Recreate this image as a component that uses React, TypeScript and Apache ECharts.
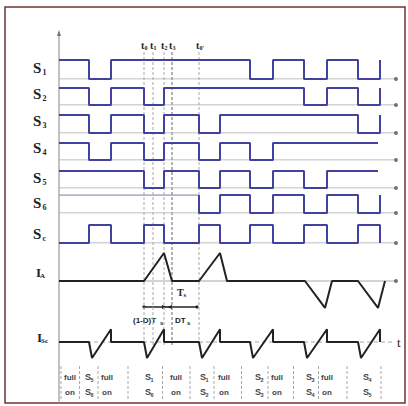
import React, { useEffect, useRef } from "react";
import * as echarts from "echarts";

// ---- data (time units; full-on / active intervals alternate) ----
const boundaries = [0, 30, 52, 85, 105, 140, 161, 191, 214, 245, 268, 299, 321];
const signalNames = ["S1", "S2", "S3", "S4", "S5", "S6", "Sc"];
const s1Levels = [1, 0, 1, 1, 1, 1, 1, 0, 1, 0, 1, 0];
const s2Levels = [1, 0, 1, 0, 1, 1, 1, 1, 1, 0, 1, 0];
const s3Levels = [1, 0, 1, 0, 1, 0, 1, 1, 1, 1, 1, 0];
const s4Levels = [1, 0, 1, 0, 1, 0, 1, 0, 1, 1, 1, 1];
const s5Levels = [1, 1, 1, 0, 1, 0, 1, 0, 1, 0, 1, 1];
const s6Levels = [1, 1, 1, 1, 1, 0, 1, 0, 1, 0, 1, 0];
const scLevels = [0, 1, 0, 1, 0, 1, 0, 1, 0, 1, 0, 1];
const signalEndTimes = [321, 321, 321, 319, 319, 321, 321];
const signalEndLevels: (number | null)[] = [1, 1, 1, null, null, 1, 0];
// S6 is drawn faint before this time
const s6FaintUntil = 140;

const iaTimes = [0, 85, 105, 113, 140, 161, 168, 246, 266, 273, 299, 319, 326];
const iaValues = [0, 0, 1, 0, 0, 1, 0, 0, -0.96, 0, 0, -0.96, 0];

const iscTimes = [0, 30, 33, 52, 52, 85, 88, 105, 105, 140, 143, 161, 161, 191, 194, 214, 214, 245, 248, 268, 268, 299, 302, 321, 321];
const iscValues = [0, 0, -1, 0.8, 0, 0, -1, 0.8, 0, 0, -1, 0.8, 0, 0, -1, 0.8, 0, 0, -1, 0.8, 0, 0, -1, 0.8, 0];

const markTimes = [85, 94, 105, 113, 140];
const markSubs = ["0", "1", "2", "3", "0'"];

const modeTop = ["full", "S", "full", "S", "full", "S", "full", "S", "full", "S", "full", "S"];
const modeTopSub = ["", "5", "", "1", "", "1", "", "2", "", "3", "", "4"];
const modeBottom = ["on", "S", "on", "S", "on", "S", "on", "S", "on", "S", "on", "S"];
const modeBottomSub = ["", "6", "", "6", "", "2", "", "3", "", "4", "", "5"];

// ---- layout ----
const GRID_LEFT = 59;
const GRID_W = 345;
const X_MAX = 345;
const BASE_END = 337;
const rowTops = [60, 88, 115, 143, 171, 195, 225];
const rowBottoms = [79, 105, 133, 160, 188, 213, 243];
const labelCenters = [68, 94, 121, 148, 178, 203, 234];
const modeXs = [70, 89, 107, 149, 176, 204, 224, 259, 277, 310, 327, 367];
const BLUE = "#4141a0";
const DARK = "#222222";
const GRAY = "#a8a8a8";

const px = (t: number) => GRID_LEFT + (t * GRID_W) / X_MAX;

function stepData(levels: number[], endT: number, endLevel: number | null) {
  const pts: number[][] = [];
  for (let k = 0; k < levels.length; k++) {
    const t0 = boundaries[k];
    const t1 = k === levels.length - 1 ? endT : boundaries[k + 1];
    pts.push([t0, levels[k]], [t1, levels[k]]);
  }
  if (endLevel !== null) pts.push([endT, endLevel]);
  return pts;
}

function txt(x: number, y: number, text: string, size: number, opts: any = {}) {
  return {
    type: "text",
    x,
    y,
    silent: true,
    style: {
      text,
      fontSize: size,
      fontFamily: opts.family || "Liberation Serif",
      fontWeight: opts.weight || "normal",
      fill: opts.color || "#222",
      textAlign: opts.align || "left",
      textVerticalAlign: "middle",
      align: opts.align || "left",
      verticalAlign: "middle",
    },
  };
}

export default function App() {
  const ref = useRef<HTMLDivElement>(null);
  useEffect(() => {
    if (!ref.current) return;
    const chart = echarts.init(ref.current, undefined, { renderer: "svg" });

    const allLevels = [s1Levels, s2Levels, s3Levels, s4Levels, s5Levels, s6Levels, scLevels];
    const grids: any[] = [];
    const xAxes: any[] = [];
    const yAxes: any[] = [];
    const series: any[] = [];

    const addGrid = (top: number, height: number, ymin: number, ymax: number) => {
      const idx = grids.length;
      grids.push({ left: GRID_LEFT, width: GRID_W, top, height, containLabel: false });
      xAxes.push({ gridIndex: idx, type: "value", min: 0, max: X_MAX, show: false });
      yAxes.push({ gridIndex: idx, type: "value", min: ymin, max: ymax, show: false });
      return idx;
    };

    const baseline = (idx: number) => {
      series.push({
        type: "line",
        xAxisIndex: idx,
        yAxisIndex: idx,
        data: [[0, 0], [BASE_END, 0]],
        symbol: "none",
        silent: true,
        lineStyle: { color: GRAY, width: 1 },
        z: 1,
      });
      series.push({
        type: "scatter",
        xAxisIndex: idx,
        yAxisIndex: idx,
        data: [[BASE_END, 0]],
        symbol: "circle",
        symbolSize: 4,
        silent: true,
        itemStyle: { color: "#555" },
        z: 2,
      });
    };

    // overlay grid for dashed time markers
    const ov = addGrid(52, 293, 0, 1);
    markTimes.forEach((t, i) => {
      series.push({
        type: "line",
        xAxisIndex: ov,
        yAxisIndex: ov,
        data: [[t, 0], [t, 1]],
        symbol: "none",
        silent: true,
        lineStyle: { color: i === 3 ? "#666" : "#aaa", width: 1, type: [3, 2] },
        z: 1,
      });
    });

    signalNames.forEach((name, i) => {
      const idx = addGrid(rowTops[i], rowBottoms[i] - rowTops[i], 0, 1);
      baseline(idx);
      const pts = stepData(allLevels[i], signalEndTimes[i], signalEndLevels[i]);
      if (i === 5) {
        const faint = pts.filter((p) => p[0] <= s6FaintUntil && !(p[0] === s6FaintUntil && p[1] === 0));
        const strong = pts.filter((p) => p[0] >= s6FaintUntil);
        series.push({
          type: "line",
          xAxisIndex: idx,
          yAxisIndex: idx,
          data: faint,
          symbol: "none",
          silent: true,
          lineStyle: { color: "#9a9ab8", width: 1.3 },
          z: 3,
        });
        series.push({
          name,
          type: "line",
          xAxisIndex: idx,
          yAxisIndex: idx,
          data: strong,
          symbol: "none",
          silent: true,
          lineStyle: { color: BLUE, width: 2 },
          z: 3,
        });
      } else {
        series.push({
          name,
          type: "line",
          xAxisIndex: idx,
          yAxisIndex: idx,
          data: pts,
          symbol: "none",
          silent: true,
          lineStyle: { color: BLUE, width: 2 },
          z: 3,
        });
      }
    });

    const ia = addGrid(253, 56, -1, 1);
    baseline(ia);
    series.push({
      name: "IA",
      type: "line",
      xAxisIndex: ia,
      yAxisIndex: ia,
      data: iaTimes.map((t, i) => [t, iaValues[i]]),
      symbol: "none",
      silent: true,
      lineStyle: { color: DARK, width: 2 },
      z: 3,
    });

    const isc = addGrid(326, 32, -1, 1);
    series.push({
      type: "line",
      xAxisIndex: isc,
      yAxisIndex: isc,
      data: [[0, 0], [BASE_END - 3, 0]],
      symbol: "none",
      silent: true,
      lineStyle: { color: GRAY, width: 1, type: [4, 3] },
      z: 1,
    });
    series.push({
      name: "ISc",
      type: "line",
      xAxisIndex: isc,
      yAxisIndex: isc,
      data: iscTimes.map((t, i) => [t, iscValues[i]]),
      symbol: "none",
      silent: true,
      lineStyle: { color: DARK, width: 2 },
      z: 3,
    });

    // ---- graphic annotations ----
    const g: any[] = [];
    g.push({
      type: "rect",
      shape: { x: 5, y: 7, width: 400, height: 396 },
      silent: true,
      style: { fill: "none", stroke: "#6e3434", lineWidth: 1.5 },
      z: 0,
    });
    g.push({
      type: "line",
      shape: { x1: GRID_LEFT, y1: 34, x2: GRID_LEFT, y2: 403 },
      silent: true,
      style: { stroke: "#999", lineWidth: 1.2 },
    });
    g.push({
      type: "polygon",
      shape: { points: [[GRID_LEFT, 30], [GRID_LEFT - 2, 36], [GRID_LEFT + 2, 36]] },
      silent: true,
      style: { fill: "#777" },
    });

    signalNames.forEach((name, i) => {
      const y = labelCenters[i];
      g.push(txt(33, y, "S", 15, { weight: "bold" }));
      g.push(txt(42.5, y + 4, name.slice(1), 8, { weight: "bold" }));
    });
    g.push(txt(36, 272, "I", 13, { weight: "bold" }));
    g.push(txt(40, 276, "A", 7, { weight: "bold" }));
    g.push(txt(37, 337, "I", 13, { weight: "bold" }));
    g.push(txt(41, 341, "Sc", 7, { weight: "bold" }));

    markTimes.forEach((t, i) => {
      const x = px(t);
      g.push(txt(x - 3, 45, "t", 10, { weight: "bold" }));
      g.push(txt(x + 0.5, 47.5, markSubs[i], 6, { weight: "bold" }));
    });

    const ax0 = px(85);
    const ax1 = px(138);
    const am = px(108);
    g.push({ type: "line", shape: { x1: ax0, y1: 307, x2: ax1, y2: 307 }, silent: true, style: { stroke: "#222", lineWidth: 1.3 } });
    g.push({ type: "circle", shape: { cx: ax0, cy: 307, r: 1.6 }, silent: true, style: { fill: "#222" } });
    g.push({ type: "circle", shape: { cx: ax1, cy: 307, r: 1.6 }, silent: true, style: { fill: "#222" } });
    g.push({ type: "polygon", shape: { points: [[am, 307], [am - 5, 305], [am - 5, 309]] }, silent: true, style: { fill: "#222" } });
    g.push({ type: "polygon", shape: { points: [[am, 307], [am + 5, 305], [am + 5, 309]] }, silent: true, style: { fill: "#222" } });
    g.push(txt(177, 292, "T", 10, { weight: "bold" }));
    g.push(txt(183.5, 295, "s", 7, { weight: "bold" }));
    g.push(txt(133, 320, "(1-D)T", 8, { weight: "bold", family: "Liberation Sans" }));
    g.push(txt(160, 323, "s", 6, { weight: "bold", family: "Liberation Sans" }));
    g.push(txt(175, 320, "DT", 8, { weight: "bold", family: "Liberation Sans" }));
    g.push(txt(187, 323, "s", 6, { weight: "bold", family: "Liberation Sans" }));

    g.push(txt(397, 342, "t", 13, {}));

    const divs: number[] = [61];
    for (let i = 0; i < modeXs.length - 1; i++) divs.push((modeXs[i] + modeXs[i + 1]) / 2);
    divs.push(381);
    divs.forEach((x) => {
      g.push({
        type: "line",
        shape: { x1: x, y1: 366, x2: x, y2: 400 },
        silent: true,
        style: { stroke: "#aaa", lineWidth: 1, lineDash: [3, 2] },
      });
    });
    modeXs.forEach((x, i) => {
      const opt = { family: "Liberation Sans", color: "#444", weight: "bold" };
      if (modeTopSub[i]) {
        g.push(txt(x - 4, 377, modeTop[i], 9, opt));
        g.push(txt(x + 1.5, 380, modeTopSub[i], 5.5, opt));
        g.push(txt(x - 4, 392, modeBottom[i], 9, opt));
        g.push(txt(x + 1.5, 395, modeBottomSub[i], 5.5, opt));
      } else {
        g.push(txt(x, 377, modeTop[i], 8, { ...opt, align: "center" }));
        g.push(txt(x, 392, modeBottom[i], 8, { ...opt, align: "center" }));
      }
    });

    chart.setOption({
      animation: false,
      backgroundColor: "#ffffff",
      grid: grids,
      xAxis: xAxes,
      yAxis: yAxes,
      series,
      graphic: { elements: g },
    });
    return () => chart.dispose();
  }, []);
  return (
    <div
      ref={ref}
      style={{ position: "fixed", left: 0, top: 0, width: 408, height: 406, background: "#fff" }}
    />
  );
}
